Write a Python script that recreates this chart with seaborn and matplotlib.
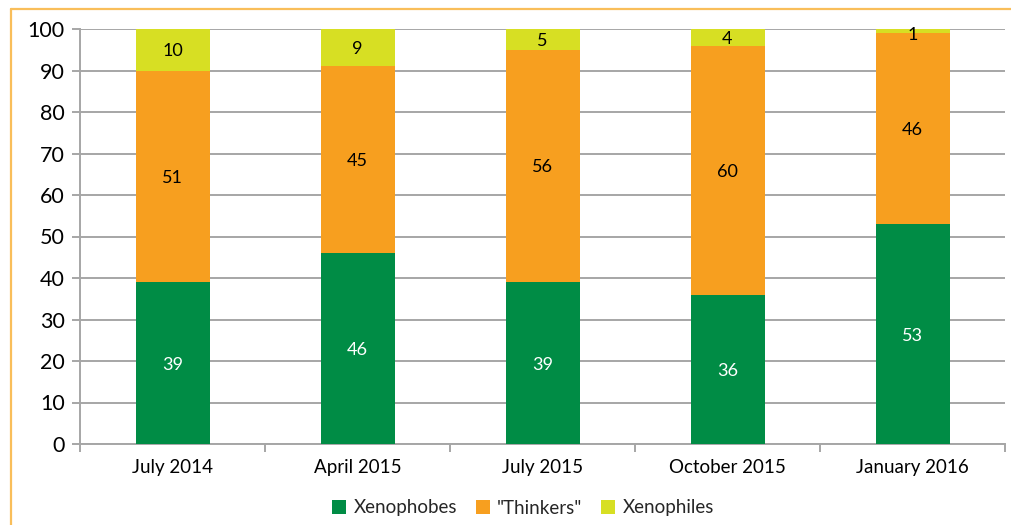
import matplotlib
matplotlib.use("Agg")
import matplotlib.pyplot as plt
import matplotlib.lines as mlines
from matplotlib.patches import Patch
import seaborn as sns
import numpy as np

categories = ["July 2014", "April 2015", "July 2015", "October 2015", "January 2016"]
xenophobes = [39, 46, 39, 36, 53]
thinkers = [51, 45, 56, 60, 46]
xenophiles = [10, 9, 5, 4, 1]
series_names = ["Xenophobes", "\"Thinkers\"", "Xenophiles"]
y_ticks = [0, 10, 20, 30, 40, 50, 60, 70, 80, 90, 100]

colors = ["#008C45", "#F79F1F", "#D7DF23"]
label_colors = ["white", "black", "black"]

sns.set_style("white")
plt.rcParams['font.family'] = ['Lato', 'DejaVu Sans']

fig = plt.figure(figsize=(10.11, 5.25), dpi=100)
ax = fig.add_axes([80/1011, 81/525, 925/1011, 415/525])

bottoms = np.zeros(len(categories))
all_series = [xenophobes, thinkers, xenophiles]
for name, vals, col, lc in zip(series_names, all_series, colors, label_colors):
    vals = np.array(vals, dtype=float)
    sns.barplot(x=categories, y=vals, bottom=bottoms, color=col, width=0.4,
                ax=ax, saturation=1, edgecolor="none", linewidth=0, zorder=3)
    for i, v in enumerate(vals):
        yc = bottoms[i] + v / 2
        if v < 2:
            yc = bottoms[i] + v / 2 - 0.5
        ax.text(i, yc, f"{int(v)}", ha="center", va="center_baseline", color=lc,
                fontsize=13, zorder=5)
    bottoms = bottoms + vals

ax.set_ylim(0, 100)
ax.set_xlim(-0.5, len(categories) - 0.5)
ax.set_yticks(y_ticks)
ax.yaxis.grid(True, color="#A6A6A6", linewidth=1.4, zorder=0)
ax.set_axisbelow(True)
for s in ["top", "right"]:
    ax.spines[s].set_visible(False)
for s in ["left", "bottom"]:
    ax.spines[s].set_color("#A6A6A6")
    ax.spines[s].set_linewidth(1.4)
ax.tick_params(axis="y", labelsize=15.5, length=6, width=1.4, color="#A6A6A6",
               left=True, pad=5, labelcolor="black")
ax.tick_params(axis="x", which="major", labelsize=13.5, length=0, pad=11, labelcolor="black")
ax.set_xticks(np.arange(-0.5, len(categories)), minor=True)
ax.tick_params(axis="x", which="minor", length=6, width=1.4, color="#A6A6A6", bottom=True)
ax.set_xlabel("")
ax.set_ylabel("")

handles = [Patch(facecolor=c, edgecolor="none") for c in colors]
fig.legend(handles, series_names, loc="center", bbox_to_anchor=(523/1011, 1 - 508/525),
           ncol=3, frameon=False, fontsize=13.5, handlelength=0.75, handleheight=0.75,
           handletextpad=0.4, columnspacing=1.0)

border = "#F9BE5A"
fig.add_artist(mlines.Line2D([11/1011, 1.0], [1 - 9/525, 1 - 9/525], color=border,
                             linewidth=1.6, transform=fig.transFigure))
fig.add_artist(mlines.Line2D([11/1011, 11/1011], [0, 1 - 9/525], color=border,
                             linewidth=1.6, transform=fig.transFigure))

fig.savefig("out.png", dpi=100)
